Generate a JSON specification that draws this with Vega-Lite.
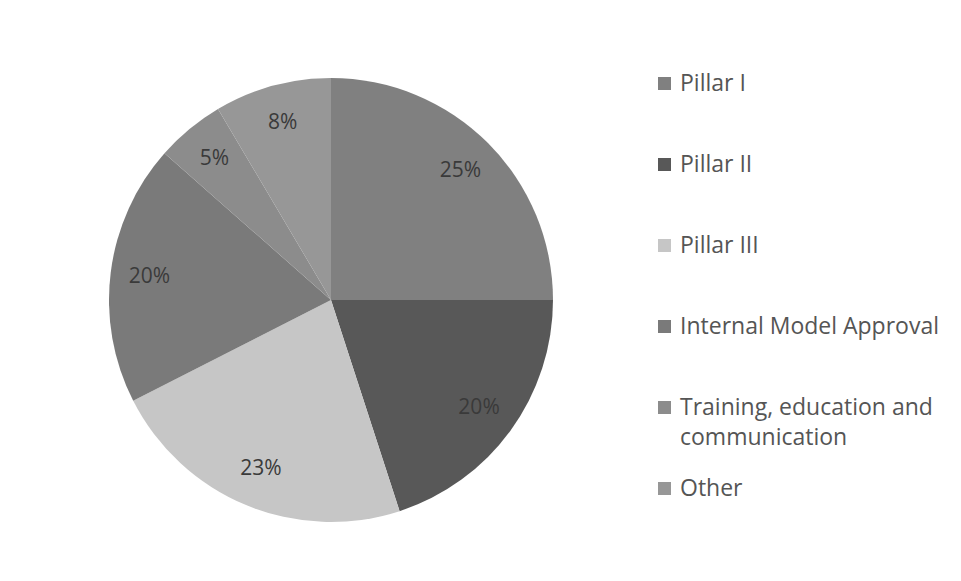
{
  "$schema": "https://vega.github.io/schema/vega-lite/v6.json",
  "width": 444,
  "height": 444,
  "autosize": "none",
  "padding": {"left": 109, "top": 78, "right": 408, "bottom": 59},
  "background": "white",
  "data": {
    "values": [
      {"idx": 1, "category": "Pillar I", "value": 25, "label": "25%"},
      {"idx": 2, "category": "Pillar II", "value": 20, "label": "20%"},
      {"idx": 3, "category": "Pillar III", "value": 22.5, "label": "23%"},
      {"idx": 4, "category": "Internal Model Approval", "value": 19, "label": "20%"},
      {"idx": 5, "category": "Training, education and communication", "value": 5, "label": "5%"},
      {"idx": 6, "category": "Other", "value": 8.5, "label": "8%"}
    ]
  },
  "encoding": {
    "theta": {"field": "value", "type": "quantitative", "stack": true},
    "order": {"field": "idx", "type": "quantitative"}
  },
  "layer": [
    {
      "mark": {"type": "arc", "outerRadius": 222},
      "encoding": {
        "color": {
          "field": "category",
          "type": "nominal",
          "sort": null,
          "scale": {
            "domain": ["Pillar I", "Pillar II", "Pillar III", "Internal Model Approval", "Training, education and communication", "Other"],
            "range": ["#808080", "#585858", "#c6c6c6", "#7a7a7a", "#8c8c8c", "#979797"]
          },
          "legend": {
            "orient": "none",
            "legendX": 544,
            "legendY": -6,
            "title": null,
            "symbolType": "square",
            "symbolSize": 169,
            "symbolStrokeWidth": 0,
            "labelFont": "Open Sans",
            "labelFontSize": 23,
            "labelColor": "#555555",
            "labelOffset": 4,
            "labelLimit": 400,
            "gridAlign": "all",
            "rowPadding": 27,
            "labelExpr": "datum.label == 'Training, education and communication' ? ['Training, education and', 'communication'] : datum.label",
            "encode": {"labels": {"update": {"lineHeight": {"value": 30}}}}
          }
        }
      }
    },
    {
      "mark": {"type": "text", "radius": 183, "font": "Open Sans", "fontSize": 21},
      "encoding": {
        "text": {"field": "label", "type": "nominal"},
        "color": {"value": "#3a3a3a"}
      }
    }
  ],
  "config": {"view": {"stroke": null}}
}
